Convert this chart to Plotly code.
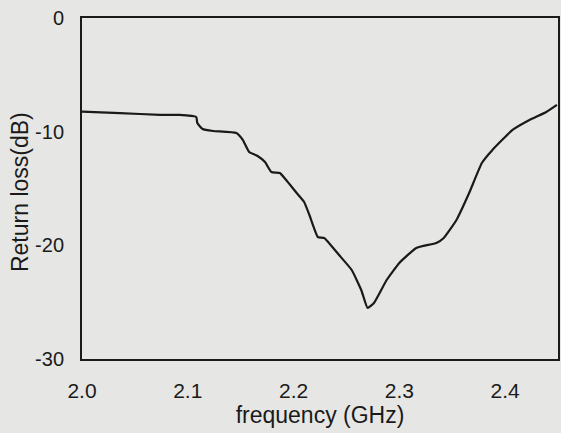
import plotly.graph_objects as go

freq_ghz = [2.000, 2.036, 2.074, 2.092, 2.108, 2.109, 2.114, 2.124, 2.146, 2.152,
            2.158, 2.166, 2.173, 2.179, 2.187, 2.193, 2.203, 2.210, 2.215, 2.223,
            2.229, 2.243, 2.255, 2.264, 2.270, 2.276, 2.288, 2.300, 2.316, 2.335,
            2.342, 2.354, 2.366, 2.378, 2.388, 2.407, 2.423, 2.439, 2.449]
return_loss_db = [-8.23, -8.36, -8.53, -8.53, -8.71, -9.24, -9.77, -9.94, -10.12, -10.73,
                  -11.79, -12.14, -12.67, -13.55, -13.64, -14.25, -15.40, -16.19, -17.33, -19.27,
                  -19.35, -20.85, -22.17, -23.93, -25.51, -25.07, -23.05, -21.55, -20.23, -19.79,
                  -19.35, -17.77, -15.40, -12.76, -11.61, -9.85, -8.97, -8.27, -7.65]

x_ticks = [2.0, 2.1, 2.2, 2.3, 2.4]
x_tick_labels = ["2.0", "2.1", "2.2", "2.3", "2.4"]
y_ticks = [0, -10, -20, -30]
y_tick_labels = ["0", "-10", "-20", "-30"]
y_title = "Return loss(dB)"
x_title = "frequency (GHz)"

ink = "#1a1a1a"
paper = "#e6e6e4"

fig = go.Figure()
fig.add_trace(go.Scatter(
    x=freq_ghz, y=return_loss_db, mode="lines",
    line=dict(color=ink, width=2.2, shape="spline", smoothing=0.4),
    showlegend=False, hoverinfo="skip"))

fig.update_layout(
    width=561, height=433,
    margin=dict(l=82, r=1, t=18, b=74),
    paper_bgcolor=paper, plot_bgcolor=paper,
    font=dict(family="Liberation Sans, Arial, sans-serif", color=ink, size=20),
)
fig.update_xaxes(
    range=[2.0, 2.45], tickvals=x_ticks, ticktext=x_tick_labels,
    showgrid=False, zeroline=False, ticks="", ticklabelstandoff=12,
    showline=True, linecolor=ink, linewidth=2, mirror=True,
    tickfont=dict(size=21, color=ink),
    title=dict(text=x_title, font=dict(size=23, color=ink), standoff=3),
)
fig.update_yaxes(
    range=[-30, 0], tickvals=y_ticks, ticktext=y_tick_labels,
    showgrid=False, zeroline=False, ticks="", ticklabelstandoff=12,
    showline=True, linecolor=ink, linewidth=2, mirror=True,
    tickfont=dict(size=20, color=ink),
)
fig.add_annotation(
    text=y_title, textangle=-90, showarrow=False,
    xref="paper", yref="paper", x=-0.13, y=0.49,
    xanchor="center", yanchor="middle",
    font=dict(size=23, color=ink),
)

fig.write_html("out.html",
               config={"displayModeBar": False},
               post_script="document.body.style.margin='0';document.body.style.background='%s';" % paper)
